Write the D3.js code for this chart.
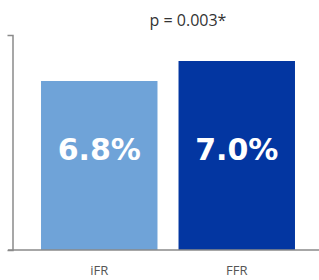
<!DOCTYPE html>
<html><head><meta charset="utf-8">
<script src="https://cdn.jsdelivr.net/npm/d3@7"></script>
<style>body{margin:0;background:#fff;overflow:hidden}</style>
</head><body>
<svg id="c" width="319" height="280"></svg>
<script>
const categories = ["iFR", "FFR"];
const values = [6.8, 7.0];
const valueLabels = ["6.8%", "7.0%"];
const colors = ["#6FA3D8", "#0336A1"];
const annotation = "p = 0.003*";

const svg = d3.select("#c");
const x = d3.scaleBand().domain(categories).range([30.5, 305.5]).paddingInner(0.153).paddingOuter(0.0765);
const y = d3.scaleLinear().domain([5.11, 7.26]).range([250, 35]);

svg.append("g").selectAll("rect").data(values).join("rect")
  .attr("x", (d,i) => x(categories[i]))
  .attr("width", x.bandwidth())
  .attr("y", d => y(d))
  .attr("height", d => 250 - y(d))
  .attr("fill", (d,i) => colors[i]);

svg.append("g").selectAll("text").data(values).join("text")
  .attr("x", (d,i) => x(categories[i]) + x.bandwidth()/2)
  .attr("y", 160)
  .attr("text-anchor", "middle")
  .attr("fill", "#fff")
  .attr("font-family", "'DejaVu Sans', sans-serif")
  .attr("font-weight", "bold")
  .attr("font-size", 30)
  .text((d,i) => valueLabels[i]);

// left axis
const ya = svg.append("g").attr("transform", "translate(12.5,0)")
  .call(d3.axisLeft(y).tickValues([]).tickSizeOuter(5));
ya.select(".domain").attr("stroke", "#8a8a8a").attr("stroke-width", 1.5);

// bottom axis
const xa = svg.append("g").attr("transform", "translate(0,250)")
  .call(d3.axisBottom(x).tickSize(0).tickPadding(16));
xa.select(".domain").attr("d", "M8,0H319").attr("stroke", "#8a8a8a").attr("stroke-width", 1.5);
xa.selectAll("text").attr("font-family", "'Open Sans', sans-serif").attr("font-size", 13).attr("fill", "#555");

svg.append("text").attr("x", 188).attr("y", 26).attr("text-anchor", "middle")
  .attr("font-family", "'Open Sans', sans-serif").attr("font-size", 16).attr("fill", "#333")
  .text(annotation);
</script>
</body></html>
